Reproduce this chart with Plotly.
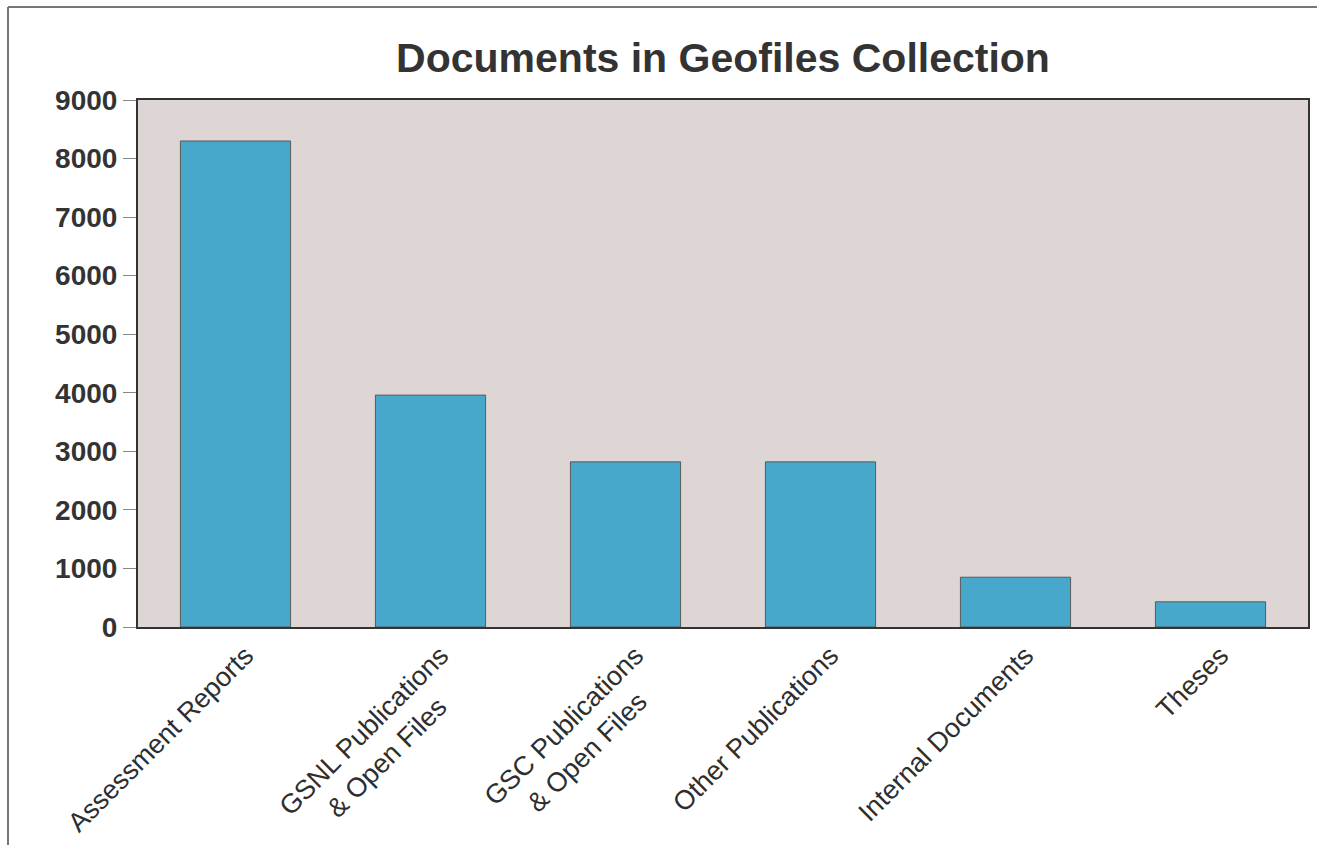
import plotly.graph_objects as go

categories = [
    "Assessment Reports",
    "GSNL Publications & Open Files",
    "GSC Publications & Open Files",
    "Other Publications",
    "Internal Documents",
    "Theses",
]
tick_labels = [
    "Assessment Reports",
    "GSNL Publications<br>& Open Files" + "\u00a0" * 5,
    "GSC Publications<br>& Open Files" + "\u00a0" * 4,
    "Other Publications",
    "Internal Documents",
    "Theses",
]
documents = [8300, 3960, 2820, 2820, 850, 430]
y_ticks = [0, 1000, 2000, 3000, 4000, 5000, 6000, 7000, 8000, 9000]

W, H = 1317, 845
L, R, T, B = 138, 9, 100, 218
PW, PH = W - L - R, H - T - B

fig = go.Figure(
    go.Bar(
        x=categories,
        y=documents,
        width=0.565,
        marker=dict(color="#47a8cc", line=dict(color="#5a5a5a", width=1)),
    )
)

font_family = "Liberation Sans, Arial, sans-serif"

fig.update_layout(
    width=W,
    height=H,
    margin=dict(l=L, r=R, t=T, b=B),
    paper_bgcolor="white",
    plot_bgcolor="#ddd6d4",
    showlegend=False,
    title=dict(
        text="<b>Documents in Geofiles Collection</b>",
        x=0.5,
        xref="paper",
        xanchor="center",
        y=1 - 58 / H,
        yanchor="middle",
        font=dict(family=font_family, size=41, color="#333333"),
    ),
    font=dict(family=font_family, color="#333333"),
)

fig.update_xaxes(
    range=[-0.5, 5.5],
    tickvals=categories,
    ticktext=tick_labels,
    tickangle=-45,
    ticklabelshift=10,
    automargin=False,
    showgrid=False,
    showline=True,
    linecolor="#333333",
    linewidth=2,
    mirror=True,
    ticks="",
    tickfont=dict(family=font_family, size=27, color="#2e2e2e"),
)
fig.update_yaxes(
    range=[0, 9000],
    tickvals=y_ticks,
    ticktext=["<b>%d</b>" % v for v in y_ticks],
    automargin=False,
    showgrid=False,
    zeroline=False,
    showline=True,
    linecolor="#333333",
    linewidth=2,
    mirror=True,
    ticks="outside",
    ticklen=13,
    tickcolor="#888888",
    tickwidth=1,
    tickfont=dict(family=font_family, size=28, color="#333333"),
)

# outer frame lines (top and left) around the figure
x_left = (8 - L) / PW
y_top = (PH - (7 - T)) / PH
fig.add_shape(
    type="line", xref="paper", yref="paper",
    x0=x_left, x1=(W + 20 - L) / PW, y0=y_top, y1=y_top,
    line=dict(color="#777777", width=2), layer="below",
)
fig.add_shape(
    type="line", xref="paper", yref="paper",
    x0=x_left, x1=x_left, y0=(PH - (H + 20 - T)) / PH, y1=y_top,
    line=dict(color="#777777", width=2), layer="below",
)

fig.write_html(
    "out.html",
    config={"displayModeBar": False},
    post_script="document.body.style.margin='0';document.body.style.overflow='hidden';",
)
